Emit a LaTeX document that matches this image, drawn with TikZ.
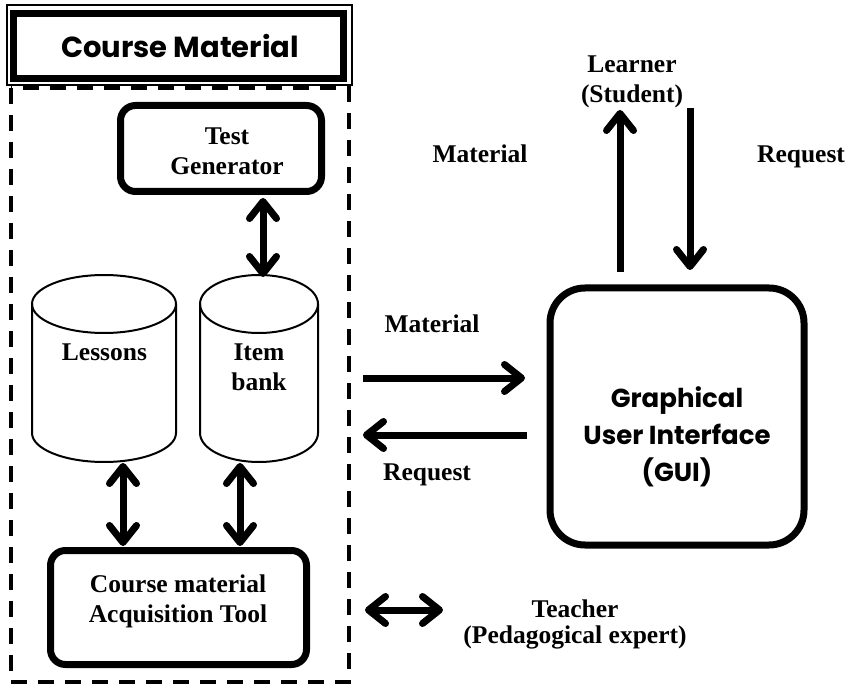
\documentclass[tikz,border=0pt]{standalone}
\usepackage{fontspec}
\setmainfont{Liberation Serif}
\newfontfamily\gothic{Poppins}
\usetikzlibrary{arrows.meta}

\begin{document}
\begin{tikzpicture}[x=1pt,y=-1pt,
  lbl/.style={font=\fontsize{25.5}{30}\selectfont\bfseries, align=center, inner sep=0pt},
  sanslbl/.style={font=\gothic\bfseries, align=center, inner sep=0pt},
  boxed/.style={draw, line width=7pt, rounded corners=15pt, inner sep=0pt},
  drum/.style={line width=2pt},
  barb/.tip={Straight Barb[length=17pt,width=27pt,round]},
  flow/.style={line width=7pt, -barb},
  dflow/.style={line width=7pt, barb-barb},
]
\useasboundingbox (0,0) rectangle (848,684);

% dashed frame of the course material block
\draw[line width=3.5pt, dash pattern=on 16pt off 11pt] (11,88) rectangle (349,682);

% title plate with double border
\node[draw, line width=1.5pt, minimum width=345pt, minimum height=80pt, inner sep=0pt, fill=white] (titleframe) at (179.5,45) {};
\node[draw, line width=7pt, minimum width=330pt, minimum height=65pt, inner sep=0pt] (titleplate) at (178.5,46) {};
\node[sanslbl, font=\gothic\bfseries\fontsize{29}{34}\selectfont] (title) at (180,46) {Course Material};

% test generator
\node[boxed, minimum width=201pt, minimum height=86pt] (testgen) at (221,148.5) {};
\node[lbl] (testgentext) at (227,151) {Test\\Generator};

% lessons cylinder (y grows downwards, so the lower rim runs from 180 to 0 degrees)
\draw[drum] (32,304) -- (32,433) arc[start angle=180, end angle=0, x radius=72, y radius=29] -- (176,304);
\draw[drum] (104,304) ellipse[x radius=72, y radius=29];
\node[lbl, anchor=base] (lessons) at (104.5,360) {Lessons};
\coordinate (lessonsbot) at (123,463);

% item bank cylinder
\draw[drum] (200,304) -- (200,433) arc[start angle=180, end angle=0, x radius=59, y radius=29] -- (318,304);
\draw[drum] (259,304) ellipse[x radius=59, y radius=29];
\node[lbl] (itembank) at (259,367) {Item\\bank};
\coordinate (itemtop) at (263,277);
\coordinate (itembot) at (240,463);

% acquisition tool
\node[boxed, minimum width=256pt, minimum height=114pt] (acq) at (178.5,607.5) {};
\node[lbl] (acqtext) at (178,601) {Course material\\Acquisition Tool};

% graphical user interface
\node[boxed, rounded corners=35pt, minimum width=254pt, minimum height=257pt] (gui) at (677,416.5) {};
\node[sanslbl, font=\gothic\bfseries\fontsize{26}{37}\selectfont] (guitext) at (677,437) {Graphical\\User Interface\\(GUI)};

% learner and teacher
\node[lbl] (learner) at (632,82) {Learner\\(Student)};
\node[lbl, font=\fontsize{25.5}{26}\selectfont\bfseries] (teacher) at (575,624) {Teacher\\(Pedagogical expert)};

% flow labels
\node[lbl, anchor=base] (matlbl) at (432,332) {Material};
\node[lbl, anchor=base] (reqlbl) at (427,480) {Request};
\node[lbl, anchor=base] (matlbltop) at (480,163) {Material};
\node[lbl, anchor=base] (reqlbltop) at (801,163) {Request};

% connector end points
\coordinate (tgbot) at (263,198);
\coordinate (acqtopl) at (123,546);
\coordinate (acqtopr) at (240,546);
\coordinate (matfrom) at (363,378);
\coordinate (matto) at (525,378);
\coordinate (reqfrom) at (527,435);
\coordinate (reqto) at (363,435);
\coordinate (guiup) at (620,272);
\coordinate (learnerin) at (620,110);
\coordinate (learnerout) at (690,108);
\coordinate (guidown) at (690,270);
\coordinate (acqright) at (365,610);
\coordinate (teacherleft) at (443,610);

% connectors
\draw[dflow] (tgbot) -- (itemtop);
\draw[dflow] (lessonsbot) -- (acqtopl);
\draw[dflow] (itembot) -- (acqtopr);
\draw[flow] (matfrom) -- (matto);
\draw[flow] (reqfrom) -- (reqto);
\draw[flow] (guiup) -- (learnerin);
\draw[flow] (learnerout) -- (guidown);
\draw[dflow] (acqright) -- (teacherleft);
\end{tikzpicture}
\end{document}
